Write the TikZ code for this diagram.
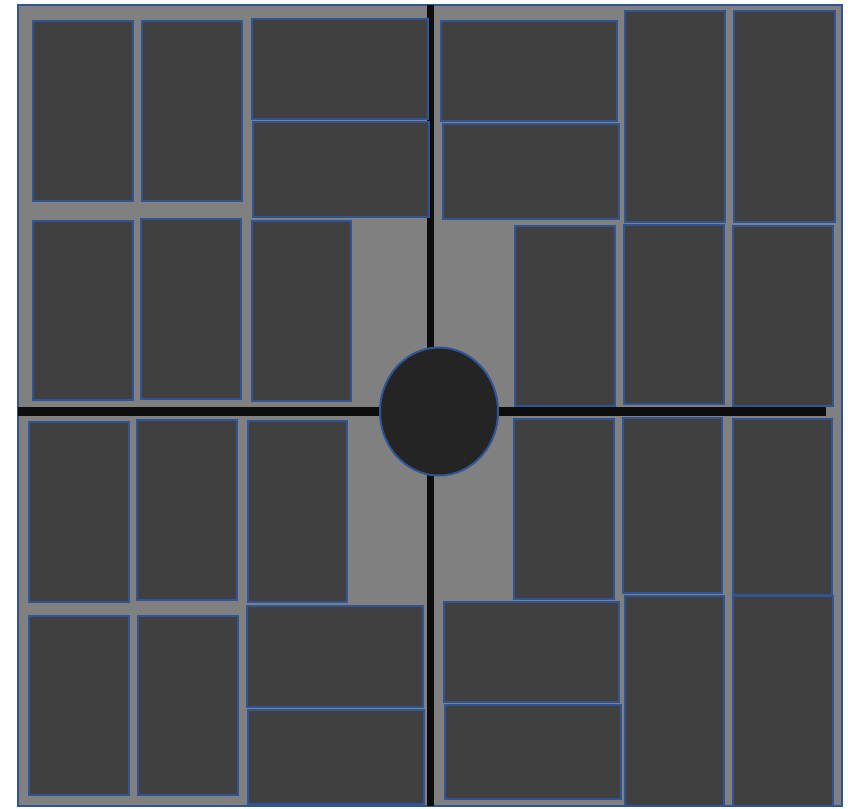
\documentclass[tikz,border=0pt]{standalone}
\definecolor{bg}{HTML}{808080}
\definecolor{slot}{HTML}{404040}
\definecolor{edge}{HTML}{2F5597}
\definecolor{hub}{HTML}{242424}
\definecolor{road}{HTML}{0D0D0D}
\tikzset{
  frame/.style={fill=bg, draw=edge, line width=1.3pt},
  slotbox/.style={fill=slot, draw=edge, line width=2pt},
  roadline/.style={draw=road, line width=#1},
  hubnode/.style={ellipse, fill=hub, draw=edge, line width=2pt, minimum width=118pt, minimum height=128pt, inner sep=0pt}
}
\usetikzlibrary{shapes.geometric}
\begin{document}
\begin{tikzpicture}[x=1pt, y=-1pt]
\useasboundingbox (0,0) rectangle (856,808);
\draw[frame] (18,5) rectangle (842,806);
% roads
\coordinate (vtop) at (430.3,5);
\coordinate (vbot) at (430.3,806);
\coordinate (hleft) at (18,411.7);
\coordinate (hright) at (826,411.7);
\draw[roadline=7.3pt] (vtop) -- (vbot);
\draw[roadline=8.7pt] (hleft) -- (hright);
% top-left
\draw[slotbox] (33,21.3) rectangle (133.3,201);
\draw[slotbox] (142.3,21.3) rectangle (242.3,201);
\draw[slotbox] (251.7,19) rectangle (427.7,119);
\draw[slotbox] (253.3,122.3) rectangle (429,217);
\draw[slotbox] (32.7,220.7) rectangle (132.7,400);
\draw[slotbox] (141.3,219) rectangle (241.3,398.7);
\draw[slotbox] (251.7,220.7) rectangle (351.3,400.7);
% top-right
\draw[slotbox] (441.3,21) rectangle (617.3,120.7);
\draw[slotbox] (443,124.3) rectangle (618.7,218.7);
\draw[slotbox] (625.3,10.7) rectangle (725.3,221.7);
\draw[slotbox] (734,10.7) rectangle (834.7,222);
\draw[slotbox] (515,226.3) rectangle (615,405.7);
\draw[slotbox] (623.7,224.7) rectangle (723.7,404);
\draw[slotbox] (733.3,225.7) rectangle (833.3,405.7);
% bottom-left
\draw[slotbox] (28.7,422) rectangle (129,601.7);
\draw[slotbox] (137.3,420.3) rectangle (237.3,600);
\draw[slotbox] (247.7,420.7) rectangle (347.3,602);
\draw[slotbox] (28.7,615.7) rectangle (129,795.3);
\draw[slotbox] (137.7,615.7) rectangle (238,795.3);
\draw[slotbox] (246.7,606.3) rectangle (422.7,706.7);
\draw[slotbox] (248,710) rectangle (424,804);
% bottom-right
\draw[slotbox] (514.3,419.3) rectangle (613.7,599);
\draw[slotbox] (622.7,418) rectangle (722.3,593.3);
\draw[slotbox] (732.7,419) rectangle (832.3,595.3);
\draw[slotbox] (443.7,602) rectangle (619.3,702.3);
\draw[slotbox] (444.7,705.3) rectangle (620.7,799.3);
\draw[slotbox] (624.7,596.3) rectangle (724,806);
\draw[slotbox] (733.3,596.3) rectangle (833.3,806);
% hub
\node[hubnode] (hub) at (439,411.5) {};
\end{tikzpicture}
\end{document}
